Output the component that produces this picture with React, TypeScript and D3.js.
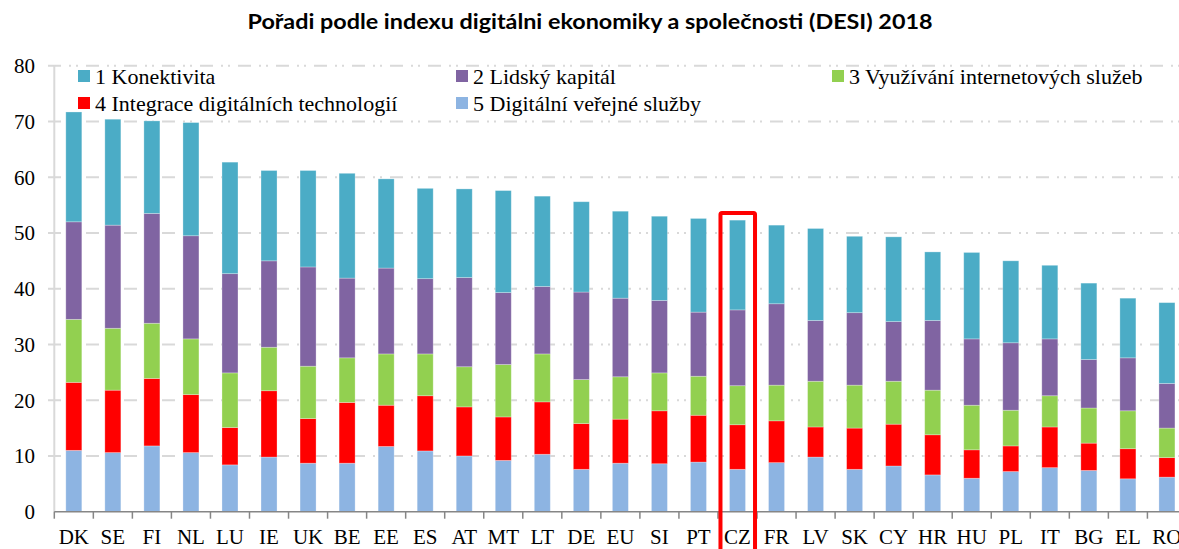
import React from 'react';
import * as d3 from 'd3';

const countries = ['DK', 'SE', 'FI', 'NL', 'LU', 'IE', 'UK', 'BE', 'EE', 'ES', 'AT', 'MT', 'LT', 'DE', 'EU',
  'SI', 'PT', 'CZ', 'FR', 'LV', 'SK', 'CY', 'HR', 'HU', 'PL', 'IT', 'BG', 'EL', 'RO'];

// values per dimension, in country order
const konektivita = [19.7, 19.0, 16.6, 20.3, 20.0, 16.2, 17.3, 18.8, 16.0, 16.2, 15.9, 18.3, 16.2, 16.2, 15.6,
  15.1, 16.8, 16.1, 14.1, 16.5, 13.7, 15.2, 12.3, 15.5, 14.7, 13.2, 13.7, 10.7, 14.5];
const lidskyKapital = [17.5, 18.5, 19.7, 18.5, 17.8, 15.5, 17.8, 14.3, 15.4, 13.5, 16.0, 12.9, 12.1, 15.7, 14.1,
  13.0, 11.5, 13.6, 14.6, 10.9, 13.0, 10.7, 12.5, 11.9, 12.1, 10.2, 8.7, 9.5, 8.0];
const vyuzivani = [11.3, 11.1, 9.9, 10.0, 9.8, 7.8, 9.4, 8.0, 9.2, 7.5, 7.2, 9.4, 8.6, 7.9, 7.6,
  6.8, 7.0, 7.0, 6.4, 8.2, 7.7, 7.7, 8.0, 8.0, 6.4, 5.6, 6.3, 6.8, 5.3];
const integrace = [12.2, 11.2, 12.1, 10.4, 6.7, 11.9, 8.0, 10.9, 7.4, 9.9, 8.8, 7.8, 9.4, 8.2, 7.9,
  9.5, 8.4, 8.0, 7.5, 5.4, 7.4, 7.5, 7.2, 5.1, 4.6, 7.3, 4.9, 5.4, 3.5];
const verejneSluzby = [11.0, 10.6, 11.8, 10.6, 8.4, 9.8, 8.7, 8.7, 11.7, 10.9, 10.0, 9.2, 10.3, 7.6, 8.7,
  8.6, 8.9, 7.6, 8.8, 9.8, 7.6, 8.2, 6.6, 6.0, 7.2, 7.9, 7.4, 5.9, 6.2];

const yTicks = [0, 10, 20, 30, 40, 50, 60, 70, 80];
const highlighted = 'CZ';

const series = [
  { key: 'verejne', name: '5 Digitální veřejné služby', color: '#8DB4E2', values: verejneSluzby },
  { key: 'integrace', name: '4 Integrace digitálních technologií', color: '#FF0000', values: integrace },
  { key: 'vyuzivani', name: '3 Využívání internetových služeb', color: '#92D050', values: vyuzivani },
  { key: 'lidsky', name: '2 Lidský kapitál', color: '#8064A2', values: lidskyKapital },
  { key: 'konektivita', name: '1 Konektivita', color: '#4BACC6', values: konektivita },
];

// legend layout, as in the original (3 columns)
const legendOrder = ['konektivita', 'lidsky', 'vyuzivani', 'integrace', 'verejne'];

const W = 1179;
const H = 549;
const serif = '"Liberation Serif", "Times New Roman", serif';

export default function App() {
  const x0 = 54.3;
  const step = 39.04;
  const x = d3.scaleBand<string>()
    .domain(countries)
    .range([x0, x0 + step * countries.length])
    .paddingInner(0.59)
    .paddingOuter(0.295);

  const y = d3.scaleLinear().domain([0, 80]).range([511.7, 65.7]);

  const table = countries.map((c, i) => {
    const row: any = { country: c };
    series.forEach(s => { row[s.key] = s.values[i]; });
    return row;
  });
  const stacked = d3.stack().keys(series.map(s => s.key))(table);

  const hx = (x(highlighted) as number) - (x.step() - x.bandwidth()) / 2;

  return (
    <svg width={W} height={H} style={{ position: 'absolute', left: 0, top: 0, background: '#fff' }}>
      <text x={590} y={29} textAnchor="middle" fontFamily="Lato, sans-serif" fontWeight="bold" fontSize={21}
        textLength={685} lengthAdjust="spacingAndGlyphs" fill="#000">
        Pořadi podle indexu digitálni ekonomiky a společnosti (DESI) 2018
      </text>

      {/* gridlines */}
      {yTicks.filter(t => t > 0).map(t => (
        <line key={t} x1={48} x2={W} y1={y(t)} y2={y(t)} stroke="#d9d9d9" strokeWidth={2}
          strokeDasharray="13,8,2,5,2,8" />
      ))}
      <line x1={54.3} x2={54.3} y1={y(80)} y2={y(0)} stroke="#d9d9d9" strokeWidth={2} />

      {yTicks.map(t => (
        <text key={t} x={35} y={y(t)} dy="0.35em" textAnchor="end" fontFamily={serif} fontSize={21} fill="#000">
          {t}
        </text>
      ))}

      {/* bars */}
      {stacked.map((layer, li) => (
        <g key={layer.key} fill={series[li].color}>
          {layer.map((d, i) => (
            <rect key={countries[i]} x={x(countries[i])} width={x.bandwidth()}
              y={y(d[1])} height={y(d[0]) - y(d[1])}
              stroke="#fff" strokeOpacity={0.35} strokeWidth={0.8} />
          ))}
        </g>
      ))}

      {/* x axis */}
      <line x1={x0} x2={W} y1={y(0)} y2={y(0)} stroke="#868686" strokeWidth={1.5} />
      {countries.map((c, i) => (
        <line key={c} x1={x0 + i * x.step()} x2={x0 + i * x.step()} y1={y(0)} y2={y(0) + 7}
          stroke="#868686" strokeWidth={1.5} />
      ))}
      {countries.map(c => (
        <text key={c} x={(x(c) as number) + x.bandwidth() / 2} y={544} textAnchor="middle"
          fontFamily={serif} fontSize={21} fill="#000">{c}</text>
      ))}

      {/* highlight box */}
      <rect x={hx + 2.5} y={y(53.6)} width={x.step() - 4.5} height={H} fill="none"
        stroke="#FF0000" strokeWidth={4} rx={1.5} />

      {/* legend */}
      {legendOrder.map((k, i) => {
        const s = series.find(ss => ss.key === k)!;
        const col = i % 3;
        const row = Math.floor(i / 3);
        const lx = [78, 456, 832][col];
        const ly = 76 + row * 27;
        return (
          <g key={k}>
            <rect x={lx} y={ly - 6} width={12} height={12} fill={s.color} />
            <text x={lx + 17} y={ly} dy="0.35em" fontFamily={serif} fontSize={22} fill="#000">{s.name}</text>
          </g>
        );
      })}
    </svg>
  );
}
